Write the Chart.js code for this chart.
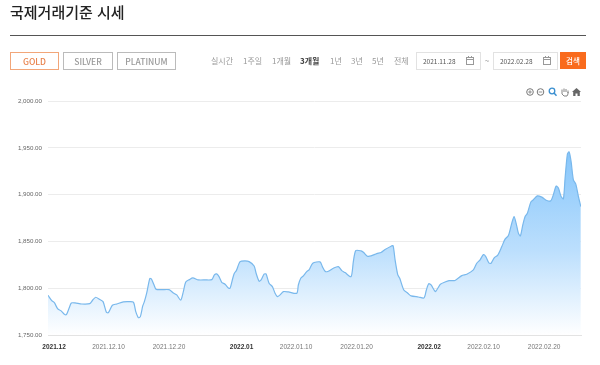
<!DOCTYPE html>
<html lang="ko">
<head>
<meta charset="utf-8">
<script src="https://cdn.jsdelivr.net/npm/chart.js@4"></script>
<style>
html,body{margin:0;padding:0;background:#fff;width:600px;height:365px;overflow:hidden}
body{font-family:"Noto Sans CJK KR","Noto Sans",sans-serif;position:relative}
#c{position:absolute;left:0;top:0}
.a{position:absolute;white-space:nowrap}
.title{left:10px;top:0px;font-size:15px;line-height:24px;font-weight:500;color:#222}
.rule{left:10px;top:35px;width:576px;height:1px;background:#555}
.btn{top:52px;height:16px;line-height:16px;border:1px solid #bbb;text-align:center;font-size:8.5px;font-weight:500;color:#999;box-sizing:content-box}
.per{top:55px;font-size:8px;line-height:12px;color:#999}
.box{top:52px;height:16px;border:1px solid #e2e2e2;font-size:6.5px;line-height:16px;color:#555;padding-left:6px;box-sizing:content-box}
.go{left:560px;top:52px;width:26px;height:17px;line-height:17px;background:#f96b1d;color:#fff;text-align:center;font-size:7.5px;font-weight:500}
svg.a{overflow:visible}
</style>
</head>
<body>
<canvas id="c" width="600" height="365"></canvas>
<div class="a title">국제거래기준 시세</div>
<div class="a rule"></div>
<div class="a btn" style="left:10px;width:47px;border-color:#f2a679;color:#e8814a">GOLD</div>
<div class="a btn" style="left:63px;width:48px">SILVER</div>
<div class="a btn" style="left:117px;width:57px">PLATINUM</div>
<div class="a per" style="left:211px">실시간</div>
<div class="a per" style="left:243px">1주일</div>
<div class="a per" style="left:272px">1개월</div>
<div class="a per" style="left:300px;color:#444;font-weight:700">3개월</div>
<div class="a per" style="left:330px">1년</div>
<div class="a per" style="left:351px">3년</div>
<div class="a per" style="left:372px">5년</div>
<div class="a per" style="left:394px">전체</div>
<div class="a box" style="left:416px;width:57px">2021.11.28</div>
<div class="a box" style="left:493px;width:57px">2022.02.28</div>
<div class="a" style="left:485px;top:55px;font-size:8px;line-height:12px;color:#666">~</div>
<div class="a go">검색</div>
<svg class="a" style="left:466px;top:56px" width="9" height="9"><rect x=".5" y="1.5" width="7" height="7" fill="none" stroke="#999"/><path d="M.5 3.5h7M2.5 0v2M5.5 0v2" stroke="#999"/></svg>
<svg class="a" style="left:543px;top:56px" width="9" height="9"><rect x=".5" y="1.5" width="7" height="7" fill="none" stroke="#999"/><path d="M.5 3.5h7M2.5 0v2M5.5 0v2" stroke="#999"/></svg>
<svg class="a" style="left:526px;top:87px" width="56" height="10">
<circle cx="4" cy="5" r="3.3" fill="none" stroke="#777"/><path d="M2.2 5h3.6M4 3.2v3.6" stroke="#777" stroke-width=".8"/>
<circle cx="14.5" cy="5" r="3.3" fill="none" stroke="#777"/><path d="M12.7 5h3.6" stroke="#777" stroke-width=".8"/>
<circle cx="26" cy="4" r="2.8" fill="none" stroke="#3a8fd0" stroke-width="1.3"/><path d="M28 6l2.5 2.7" stroke="#3a8fd0" stroke-width="1.5"/>
<path d="M36 5V2.5M38 5V1.5M40 5V2M42 6V3.5M36 5v2l2 2h3l1-2V5" fill="none" stroke="#777" stroke-width=".9"/>
<path d="M46 5l4.5-4 4.5 4h-1.2v4h-2.3V6.5h-2V9h-2.3V5z" fill="#666"/>
</svg>
<script>
const dayPositions = [-1,-0.38,0.05,0.61,1.11,1.65,2.03,2.48,2.86,3.47,4.58,5.9,6.4,6.89,7.49,8.1,8.65,8.98,9.64,10.36,11.46,12.28,13.11,13.51,13.93,14.27,14.66,14.93,15.32,15.82,16.08,16.48,16.86,17.8,19.01,19.72,20.28,20.94,21.37,21.77,22.37,22.93,23.85,24.96,26.07,26.5,26.89,27.27,27.72,28.27,28.81,29.09,29.54,29.8,30.13,30.75,31.58,32.24,33.07,33.4,33.89,34.22,34.71,35.04,35.54,36.09,36.53,36.91,37.36,37.9,38.73,40.12,40.38,40.78,41.21,41.77,42.15,42.76,43.97,44.35,44.85,45.34,46.17,46.99,47.56,48.1,49.09,49.47,49.87,50.75,51.13,51.79,52.4,53.34,54.05,54.71,55.71,56.04,56.37,56.82,57.14,57.81,58.47,59.01,60.22,61.16,61.54,61.94,62.32,63.03,63.43,63.86,64.63,65.29,66.28,67.39,68.22,69.31,69.87,70.42,70.97,71.36,71.91,72.24,72.78,73.34,74.01,74.55,75.1,75.66,76.04,76.37,76.75,77.08,77.48,77.86,78.24,78.8,79.23,79.89,80.62,81.44,82.1,82.53,82.98,83.36,83.81,84.19,84.47,84.85,85.13,85.46,85.84,86.24,86.67,87.07];
const goldPrices = [1792.7,1787,1784.8,1778.1,1776.3,1772.8,1772,1778.8,1784.5,1784.5,1783.4,1783.8,1787.7,1790.6,1788.5,1785.9,1774.6,1774.1,1782.1,1783.4,1785.6,1785.9,1785.3,1775.2,1768.8,1769.9,1781.3,1785.9,1795.2,1810.5,1810.2,1804.5,1799.1,1798.7,1798.7,1795.2,1793.1,1787.4,1796.6,1806.9,1809.4,1811.2,1809.1,1809.1,1809.4,1814.4,1815.5,1812.6,1806.6,1804.5,1800.5,1800.2,1810.9,1816.2,1819,1828.6,1829.4,1828.6,1824,1816.2,1807.7,1809.1,1815.2,1815.5,1805.6,1801.9,1794.9,1791.2,1793.1,1796.6,1796.3,1794.9,1803.7,1810.9,1813.4,1818,1819.8,1826.9,1828.3,1823.3,1818,1818.4,1821.6,1823.3,1819,1816.9,1812.6,1828.6,1840.4,1840.1,1838.7,1834.4,1834.7,1837.2,1838.3,1841.5,1845.1,1845.7,1830.5,1814.4,1810.9,1798.4,1794.9,1792,1790.9,1789.9,1798.4,1805.1,1803.7,1796.6,1800.2,1804.5,1806.9,1808.3,1808.5,1813.7,1815.2,1819.8,1826.9,1830.5,1836.1,1834,1826.9,1826.9,1832.9,1835.5,1844.7,1852.6,1856.4,1869.7,1876.7,1869.7,1859,1856.1,1867.8,1876.7,1880.3,1892.1,1894.6,1898.8,1897.4,1893.8,1893.5,1899.9,1909.2,1907.1,1898.1,1895.6,1917.7,1943.4,1945.8,1935.5,1915.9,1911.3,1898.1,1887.4];
const xTickDays = [0,9,19,31,40,50,62,71,81];
const xTickLabels = ["2021.12","2021.12.10","2021.12.20","2022.01","2022.01.10","2022.01.20","2022.02","2022.02.10","2022.02.20"];
const yTicks = [1750,1800,1850,1900,1950,2000];
const yTickLabels = ["1,750.00","1,800.00","1,850.00","1,900.00","1,950.00","2,000.00"];

const points = dayPositions.map((d,i)=>({x:d,y:goldPrices[i]}));
new Chart(document.getElementById('c'),{
  type:'line',
  data:{datasets:[{
    data:points,
    borderColor:'#79b8ec',
    borderWidth:1.2,
    pointRadius:0,
    tension:0.25,
    fill:'start',
    backgroundColor(ctx){
      const ch=ctx.chart, a=ch.chartArea;
      if(!a) return 'rgba(0,0,0,0)';
      const g=ch.ctx.createLinearGradient(0,ch.scales.y.getPixelForValue(1950),0,a.bottom);
      g.addColorStop(0,'#84c5fb');
      g.addColorStop(0.55,'#bcdffd');
      g.addColorStop(1,'#ffffff');
      return g;
    }
  }]},
  options:{
    responsive:false,animation:false,
    layout:{padding:{left:0,right:19,top:101,bottom:0}},
    plugins:{legend:{display:false},tooltip:{enabled:false}},
    scales:{
      x:{type:'linear',min:-1,max:87.1,
        afterBuildTicks(s){s.ticks=xTickDays.map(v=>({value:v}));},
        afterFit(s){s.height=29.7;},
        grid:{display:false},
        border:{color:'#e3e3e3'},
        ticks:{autoSkip:false,maxRotation:0,padding:0,color(c){return xTickLabels[c.index].length===7?'#333':'#777';},
          font(c){return {family:'"Liberation Sans",Arial,sans-serif',size:6.5,weight:xTickLabels[c.index]&&xTickLabels[c.index].length===7?'bold':'normal'};},
          callback(v){return xTickLabels[xTickDays.indexOf(v)];}}
      },
      y:{min:1750,max:2000,
        afterBuildTicks(s){s.ticks=yTicks.map(v=>({value:v}));},
        afterFit(s){s.width=48;},
        grid:{color:'#ececec',drawTicks:false,lineWidth:1},
        border:{display:false},
        ticks:{padding:6,color:'#666',font:{family:'"Liberation Sans",Arial,sans-serif',size:6.2},
          callback(v){return yTickLabels[yTicks.indexOf(v)];}}
      }
    }
  }
});
</script>
</body>
</html>
